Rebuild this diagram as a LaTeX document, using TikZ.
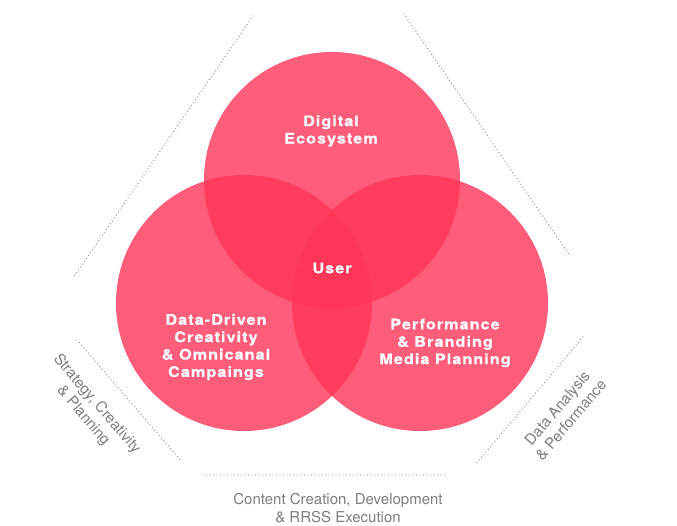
\documentclass[tikz,border=0pt]{standalone}
\usepackage{fontspec}
\setmainfont{TeX Gyre Heros}
\newfontfamily\circfont{TeX Gyre Heros}[LetterSpace=7, FakeStretch=1.12, BoldFeatures={FakeBold=0.6}]
\definecolor{vennred}{RGB}{255,52,87}
\definecolor{dotgray}{RGB}{150,150,150}
\definecolor{labgray}{RGB}{125,125,125}
\begin{document}
\begin{tikzpicture}[x=1pt,y=-1pt,
  venn/.style={circle, fill=vennred, fill opacity=0.8, minimum size=256pt, inner sep=0pt, draw=none},
  ctext/.style={text=white, align=center, inner sep=0pt, font=\circfont\bfseries\fontsize{14.5}{17.4}\selectfont},
  dotline/.style={draw=dotgray, line width=1.4pt, line cap=round, dash pattern=on 0pt off 3.5pt},
  glabel/.style={text=labgray, align=center, inner sep=0pt, font=\fontsize{15}{18}\selectfont}]
\useasboundingbox (0,0) rectangle (677,525);
% dotted frame
\coordinate (a1) at (253,16);  \coordinate (a2) at (73,278);
\coordinate (b1) at (404,14);  \coordinate (b2) at (570,256);
\coordinate (c1) at (77,340);  \coordinate (c2) at (182,462);
\coordinate (d1) at (583,337); \coordinate (d2) at (475,465);
\coordinate (e1) at (203,475); \coordinate (e2) at (448,475);
\draw[dotline] (a1) -- (a2);
\draw[dotline] (b1) -- (b2);
\draw[dotline] (c1) -- (c2);
\draw[dotline] (d1) -- (d2);
\draw[dotline] (e1) -- (e2);
% circles
\node[venn] (top) at (332,180) {};
\node[venn] (left) at (244,303) {};
\node[venn] (right) at (420,303) {};
% texts
\node[ctext] (tdig) at (331,131) {Digital\\Ecosystem};
\node[ctext] (tuser) at (332,268) {User};
\node[ctext] (tleft) at (216,347) {Data-Driven\\Creativity\\\& Omnicanal\\Campaings};
\node[ctext] (tright) at (445,343) {Performance\\\& Branding\\Media Planning};
% gray labels
\node[glabel, rotate=-49.3] (lstrat) at (90,410) {Strategy, Creativity\\\& Planning};
\node[glabel, rotate=49.8] (ldata) at (564,414) {Data Analysis\\\& Performance};
\node[glabel] (lcont) at (338,508) {Content Creation, Development\\\& RRSS Execution};
\end{tikzpicture}
\end{document}
